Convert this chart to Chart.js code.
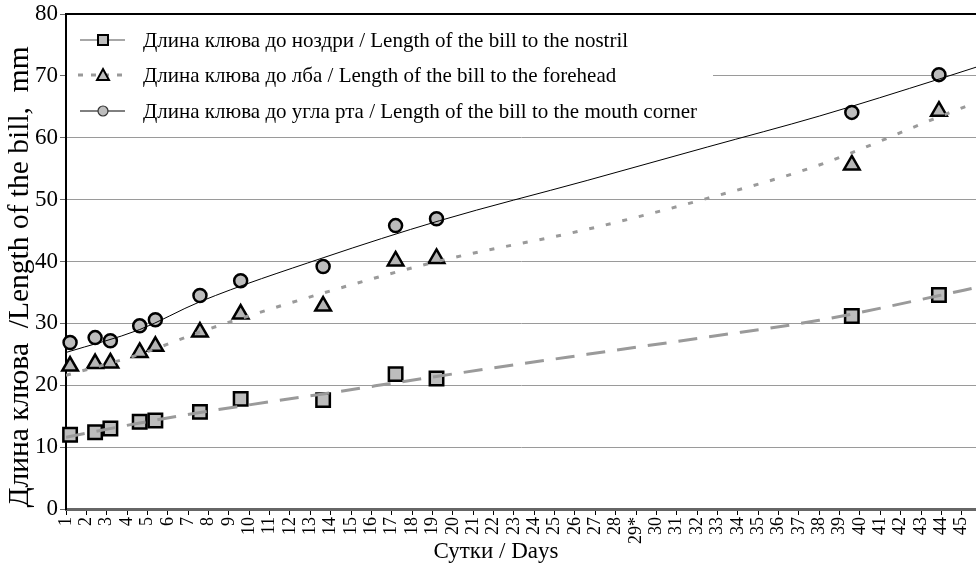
<!DOCTYPE html>
<html>
<head>
<meta charset="utf-8">
<script src="https://cdn.jsdelivr.net/npm/chart.js@4/dist/chart.umd.min.js"></script>
<style>
  html, body { margin: 0; padding: 0; background: #fff; }
  #wrap { width: 976px; height: 568px; }
</style>
</head>
<body>
<div id="wrap"><canvas id="c" width="976" height="568"></canvas></div>
<script>
// Measurement days (age of chicks) and bill lengths, mm
const days     = [1.2, 2.43, 3.18, 4.62, 5.39, 7.58, 9.58, 13.63, 17.19, 19.2, 39.6, 43.88];
const nostril  = [12.0, 12.4, 13.0, 14.1, 14.3, 15.7, 17.8, 17.6, 21.8, 21.1, 31.2, 34.6];
const forehead = [23.1, 23.5, 23.6, 25.3, 26.3, 28.6, 31.5, 32.8, 40.1, 40.5, 55.6, 64.3];
const mouth    = [26.9, 27.7, 27.2, 29.6, 30.6, 34.5, 36.9, 39.2, 45.8, 46.9, 64.1, 70.2];

// Fitted trend curves, sampled along the day axis
const trendDays     = [1, 4.62, 7.58, 13.63, 19.35, 26.6, 32.5, 38, 43.9, 45.7];
const nostrilTrend  = [11.6, 13.9, 15.6, 18.6, 21.5, 25.0, 27.8, 30.5, 34.5, 35.8];
const foreheadTrend = [21.6, 25.0, 28.6, 34.9, 40.1, 45.2, 50.2, 55.6, 63.4, 65.7];
const mouthTrend    = [25.3, 29.0, 33.5, 40.6, 46.6, 53.1, 58.5, 63.5, 69.5, 71.4];

const seriesNames = [
  'Длина клюва до ноздри / Length of the bill to the nostril',
  'Длина клюва до лба / Length of the bill to the forehead',
  'Длина клюва до угла рта / Length of the bill to the mouth corner'
];
const xTitle = 'Сутки / Days';
const yTitle = 'Длина клюва  /Length of the bill,  mm';
const markedDay = 29;   // day flagged with an asterisk on the axis

const FONT = "'Liberation Serif', 'Times New Roman', serif";
const pts = (xs, ys) => xs.map((x, i) => ({ x, y: ys[i] }));

const markerBase = { showLine: false, clip: false, order: 2, pointBorderColor: '#000', pointBorderWidth: 2.5 };
const trendBase = { showLine: true, pointRadius: 0, fill: false, cubicInterpolationMode: 'monotone', order: 1 };

const overlay = {
  id: 'overlay',
  afterDraw(chart) {
    const ctx = chart.ctx, a = chart.chartArea;
    ctx.save();
    // top frame line
    ctx.strokeStyle = '#000'; ctx.lineWidth = 2;
    ctx.beginPath(); ctx.moveTo(a.left, a.top); ctx.lineTo(a.right, a.top); ctx.stroke();

    // legend box
    ctx.fillStyle = '#fff';
    ctx.fillRect(a.left + 1, a.top + 2, 646, 110);
    const rows = [40, 75, 111];
    const mx = 103;
    // row 1: square
    ctx.setLineDash([]);
    ctx.strokeStyle = '#8a8a8a'; ctx.lineWidth = 1.5;
    ctx.beginPath(); ctx.moveTo(80, rows[0]); ctx.lineTo(125, rows[0]); ctx.stroke();
    ctx.fillStyle = '#bdbdbd'; ctx.fillRect(mx - 5, rows[0] - 5, 10, 10);
    ctx.strokeStyle = '#000'; ctx.lineWidth = 2; ctx.strokeRect(mx - 5, rows[0] - 5, 10, 10);
    // row 2: triangle
    ctx.strokeStyle = '#999'; ctx.lineWidth = 3; ctx.setLineDash([5, 8]);
    ctx.beginPath(); ctx.moveTo(78, rows[1]); ctx.lineTo(128, rows[1]); ctx.stroke();
    ctx.setLineDash([]);
    ctx.beginPath();
    ctx.moveTo(mx, rows[1] - 6); ctx.lineTo(mx + 6, rows[1] + 5); ctx.lineTo(mx - 6, rows[1] + 5); ctx.closePath();
    ctx.fillStyle = '#bdbdbd'; ctx.fill();
    ctx.strokeStyle = '#000'; ctx.lineWidth = 2; ctx.stroke();
    // row 3: circle
    ctx.strokeStyle = '#000'; ctx.lineWidth = 1;
    ctx.beginPath(); ctx.moveTo(80, rows[2]); ctx.lineTo(125, rows[2]); ctx.stroke();
    ctx.beginPath(); ctx.arc(mx, rows[2], 5, 0, Math.PI * 2);
    ctx.fillStyle = '#bdbdbd'; ctx.fill();
    ctx.strokeStyle = '#333'; ctx.lineWidth = 1.2; ctx.stroke();

    ctx.fillStyle = '#000';
    ctx.font = '21px ' + FONT;
    ctx.textAlign = 'left'; ctx.textBaseline = 'middle';
    seriesNames.forEach((t, i) => ctx.fillText(t, 143, rows[i] + 1));

    // axis titles
    ctx.font = '23px ' + FONT;
    ctx.textAlign = 'center'; ctx.textBaseline = 'middle';
    ctx.fillText(xTitle, 496, 552);
    ctx.translate(20, 277);
    ctx.rotate(-Math.PI / 2);
    ctx.font = '29.5px ' + FONT;
    ctx.fillText(yTitle, 0, 0);
    ctx.restore();
  }
};

new Chart(document.getElementById('c'), {
  type: 'scatter',
  data: {
    datasets: [
      { ...markerBase, label: seriesNames[0], data: pts(days, nostril),
        pointStyle: 'rect', pointRadius: 9.5, pointBackgroundColor: '#bdbdbd' },
      { ...markerBase, label: seriesNames[1], data: pts(days, forehead),
        pointStyle: 'triangle', pointRadius: 9, pointBackgroundColor: '#b5b5b5' },
      { ...markerBase, label: seriesNames[2], data: pts(days, mouth),
        pointStyle: 'circle', pointRadius: 6.5, pointBackgroundColor: '#bdbdbd' },
      { ...trendBase, data: pts(trendDays, nostrilTrend),
        borderColor: '#9a9a9a', borderWidth: 3, borderDash: [19, 12] },
      { ...trendBase, data: pts(trendDays, foreheadTrend),
        borderColor: '#9a9a9a', borderWidth: 3, borderDash: [5, 12] },
      { ...trendBase, data: pts(trendDays, mouthTrend),
        borderColor: '#000', borderWidth: 1 }
    ]
  },
  options: {
    responsive: false,
    animation: false,
    layout: { autoPadding: false, padding: { top: 14, left: 0, right: 0, bottom: 0 } },
    plugins: { legend: { display: false }, tooltip: { enabled: false } },
    scales: {
      x: {
        type: 'linear', min: 1, max: 45.7,
        afterFit(s) { s.height = 59; s.paddingLeft = 0; s.paddingRight = 0; },
        border: { display: true, color: '#666', width: 3 },
        grid: { drawOnChartArea: false, drawTicks: true, tickLength: 6, tickColor: '#000', lineWidth: 1 },
        ticks: {
          stepSize: 1, includeBounds: false, autoSkip: false,
          minRotation: 90, maxRotation: 90, padding: 2,
          color: '#000', font: { family: FONT, size: 18 },
          callback: v => (v === markedDay ? markedDay + '*' : String(v))
        }
      },
      y: {
        min: 0, max: 80,
        afterFit(s) { s.width = 66; s.paddingTop = 0; s.paddingBottom = 0; },
        border: { display: true, color: '#000', width: 2 },
        grid: { color: '#9a9a9a', lineWidth: 1, tickLength: 6, tickColor: '#666' },
        ticks: { stepSize: 10, padding: 2, color: '#000', font: { family: FONT, size: 23 } }
      }
    }
  },
  plugins: [overlay]
});
</script>
</body>
</html>
